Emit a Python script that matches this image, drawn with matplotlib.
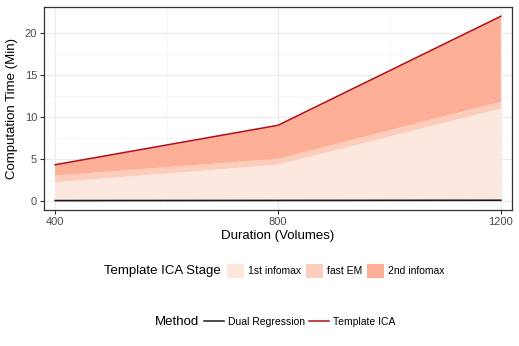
import matplotlib.pyplot as plt
from matplotlib.patches import Patch
from matplotlib.lines import Line2D

plt.rcParams['font.family'] = ['Liberation Sans', 'DejaVu Sans']

duration = [400, 800, 1200]
first_infomax = [2.2, 4.3, 11.0]
fast_em = [0.8, 0.7, 0.8]
second_infomax = [1.3, 4.0, 10.2]
template_ica_total = [4.3, 9.0, 22.0]
dual_regression = [0.02, 0.04, 0.06]

stage_labels = ["1st infomax", "fast EM", "2nd infomax"]
stage_colors = ["#FDE8DF", "#FDCDBB", "#FCAE96"]
method_labels = ["Dual Regression", "Template ICA"]
method_colors = ["#1a1a1a", "#B2101C"]

fig = plt.figure(figsize=(5.19, 3.46), dpi=100)
ax = fig.add_axes([44 / 519, 1 - 210 / 346, 468 / 519, 203 / 346])

ax.stackplot(duration, first_infomax, fast_em, second_infomax,
             colors=stage_colors, linewidth=0, zorder=2)
ax.plot(duration, template_ica_total, color=method_colors[1], lw=1.1, zorder=3)
ax.plot(duration, dual_regression, color=method_colors[0], lw=1.2, zorder=3)

ax.set_xlim(380, 1220)
ax.set_ylim(-1.1, 23.1)
ax.set_xticks(duration)
ax.set_xticks([600, 1000], minor=True)
ax.set_yticks([0, 5, 10, 15, 20])
ax.set_yticks([2.5, 7.5, 12.5, 17.5, 22.5], minor=True)
ax.grid(True, which="major", color="#EBEBEB", lw=0.9, zorder=0)
ax.grid(True, which="minor", color="#F4F4F4", lw=0.5, zorder=0)
ax.set_axisbelow(True)
for s in ax.spines.values():
    s.set_color("#333333")
    s.set_linewidth(0.9)
ax.tick_params(which="major", length=3, color="#333333", labelsize=8,
               labelcolor="#4D4D4D", pad=2)
ax.tick_params(which="minor", length=0)
ax.set_xlabel("Duration (Volumes)", fontsize=9.5, labelpad=2)
ax.set_ylabel("Computation Time (Min)", fontsize=9.5, labelpad=5)

# legend titles sit left of the keys, ggplot style
fig.text(221 / 519, 1 - 271 / 346, "Template ICA Stage", ha="right",
         va="center", fontsize=9.5)
stage_handles = [Patch(facecolor=c, edgecolor="none") for c in stage_colors]
fig.legend(stage_handles, stage_labels, loc="center left", ncol=3,
           bbox_to_anchor=(227 / 519, 1 - 271 / 346), frameon=False,
           fontsize=7.5, borderpad=0, borderaxespad=0,
           handlelength=1.6, handleheight=1.6, handletextpad=0.4,
           columnspacing=0.5)

fig.text(199 / 519, 1 - 322 / 346, "Method", ha="right",
         va="center", fontsize=9.5)
method_handles = [Line2D([], [], color=c, lw=1.1) for c in method_colors]
fig.legend(method_handles, method_labels, loc="center left", ncol=2,
           bbox_to_anchor=(204 / 519, 1 - 322 / 346), frameon=False,
           fontsize=7.5, borderpad=0, borderaxespad=0,
           handlelength=1.9, handletextpad=0.4, columnspacing=0.4)

fig.savefig("out.png", dpi=100)
